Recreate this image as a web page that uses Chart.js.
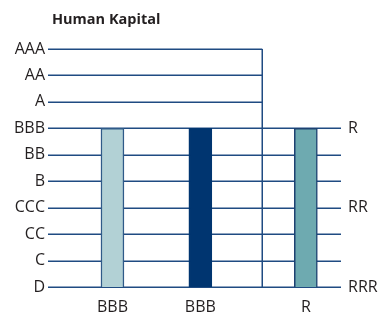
<!DOCTYPE html>
<html lang="en">
<head>
  <meta charset="UTF-8">
  <title>Human Kapital</title>
  <script src="https://cdn.jsdelivr.net/npm/chart.js"></script>
  <style>
    body {
      margin: 0;
      background: #ffffff;
    }
    .chart-container {
      position: relative;
      width: 381px;
      height: 319px;
    }
    .chart-title {
      position: absolute;
      left: 52px;
      top: 9px;
      font-family: 'Open Sans', sans-serif;
      font-size: 14.5px;
      font-weight: bold;
      color: #231f20;
    }
  </style>
</head>
<body>

<div class="chart-container">
  <div class="chart-title">Human Kapital</div>
  <canvas id="ratingChart"></canvas>
</div>

<script>
  // rating scales
  const leftRatings = ['D', 'C', 'CC', 'CCC', 'B', 'BB', 'BBB', 'A', 'AA', 'AAA'];
  const rightRatings = ['RRR', 'RR', 'R'];
  const rightRatingLevels = ['D', 'CCC', 'BBB'];   // left rating each right rating lines up with

  // bars
  const barLabels = ['BBB', 'BBB', 'R'];
  const barRatings = ['BBB', 'BBB', 'R'];
  const barScale = ['left', 'left', 'right'];

  // layout along the x axis (0..10)
  const barSlots = [2.2, 5.2, 8.8];
  const dividerAt = 7.3;

  const lineColor = '#1f4b82';
  const textColor = '#231f20';
  const fillColors = ['#b2d1d5', '#003570', '#6eaab0'];
  const borderColors = ['#2f5a88', '#003570', '#1d4070'];

  function levelOf(rating, side) {
    if (side === 'right') {
      return leftRatings.indexOf(rightRatingLevels[rightRatings.indexOf(rating)]);
    }
    return leftRatings.indexOf(rating);
  }

  const datasets = barLabels.map((label, i) => ({
    label: label,
    data: [{ x: barSlots[i], y: levelOf(barRatings[i], barScale[i]) }],
    yAxisID: barScale[i] === 'right' ? 'y2' : 'y',
    backgroundColor: fillColors[i],
    borderColor: borderColors[i],
    borderWidth: 1.5,
    borderSkipped: 'bottom',
    barThickness: 23,
    grouped: false
  }));

  // grid drawn under the bars; upper ratings stop at the divider
  const ratingGrid = {
    id: 'ratingGrid',
    beforeDatasetsDraw(chart) {
      const { ctx, chartArea, scales } = chart;
      const xDiv = Math.round(scales.x.getPixelForValue(dividerAt)) + 0.25;
      ctx.save();
      ctx.strokeStyle = lineColor;
      ctx.lineWidth = 1.5;
      leftRatings.forEach((r, v) => {
        const y = Math.round(scales.y.getPixelForValue(v)) + 0.25;
        const xEnd = v > leftRatings.indexOf('BBB') ? xDiv : chartArea.right;
        ctx.beginPath();
        ctx.moveTo(chartArea.left, y);
        ctx.lineTo(xEnd, y);
        ctx.stroke();
      });
      ctx.beginPath();
      ctx.moveTo(xDiv, Math.round(scales.y.getPixelForValue(leftRatings.length - 1)));
      ctx.lineTo(xDiv, Math.round(scales.y.getPixelForValue(0)) + 1);
      ctx.stroke();
      ctx.restore();
    }
  };

  const tickFont = { family: 'Open Sans', size: 16 };

  new Chart(document.getElementById('ratingChart'), {
    type: 'bar',
    data: { datasets: datasets },
    options: {
      responsive: true,
      maintainAspectRatio: false,
      animation: false,
      layout: { padding: { top: 49 } },
      scales: {
        x: {
          type: 'linear',
          offset: false,
          min: 0,
          max: 10,
          grid: { display: false, drawTicks: false },
          border: { display: false },
          afterBuildTicks: axis => { axis.ticks = barSlots.map(v => ({ value: v })); },
          afterFit: axis => { axis.height = 32; },
          ticks: {
            autoSkip: false,
            maxRotation: 0,
            padding: 11,
            color: textColor,
            font: tickFont,
            callback: (value, index) => barLabels[index]
          }
        },
        y: {
          position: 'left',
          min: 0,
          max: leftRatings.length - 1,
          grid: { display: false, drawTicks: false },
          border: { display: false },
          afterFit: axis => { axis.width = 48; },
          ticks: {
            stepSize: 1,
            padding: 3,
            color: textColor,
            font: tickFont,
            callback: v => leftRatings[v]
          }
        },
        y2: {
          position: 'right',
          min: 0,
          max: leftRatings.length - 1,
          grid: { display: false, drawTicks: false },
          border: { display: false },
          afterBuildTicks: axis => {
            axis.ticks = rightRatingLevels.map(r => ({ value: leftRatings.indexOf(r) }));
          },
          afterFit: axis => { axis.width = 40; },
          ticks: {
            padding: 7,
            color: textColor,
            font: tickFont,
            callback: (value, index) => rightRatings[index]
          }
        }
      },
      plugins: {
        legend: { display: false },
        tooltip: { enabled: false },
        title: { display: false }
      }
    },
    plugins: [ratingGrid]
  });
</script>

</body>
</html>
